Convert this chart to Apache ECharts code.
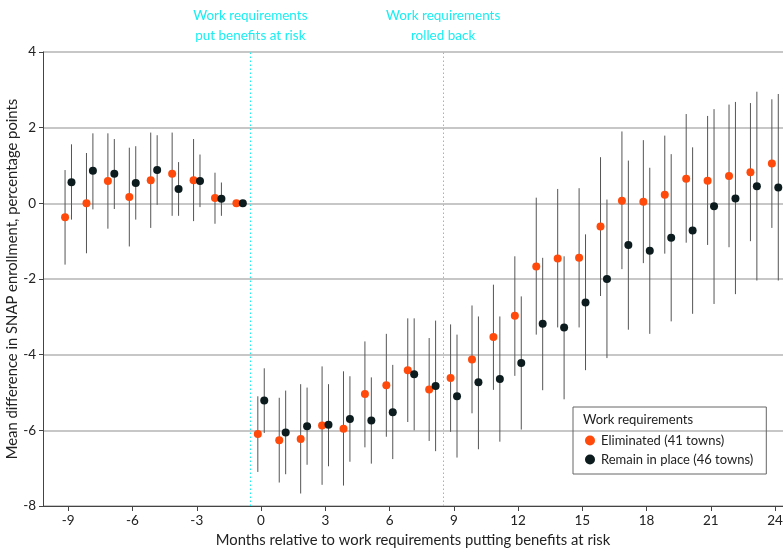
<!DOCTYPE html>
<html>
<head>
<meta charset="utf-8">
<script src="https://cdn.jsdelivr.net/npm/echarts@6/dist/echarts.min.js"></script>
<style>
  html, body { margin: 0; padding: 0; background: #fff; }
  #chart { width: 783px; height: 560px; }
</style>
</head>
<body>
<div id="chart"></div>
<script>
// months relative to work requirements putting benefits at risk
const months = [-9, -8, -7, -6, -5, -4, -3, -2, -1,
  0, 1, 2, 3, 4, 5, 6, 7, 8, 9, 10, 11, 12, 13, 14, 15, 16, 17, 18, 19, 20, 21, 22, 23, 24];

// Eliminated (41 towns)
const elimMean = [-0.37, 0.0, 0.59, 0.17, 0.61, 0.78, 0.61, 0.14, 0,
  -6.10, -6.26, -6.23, -5.87, -5.96, -5.04, -4.81, -4.41, -4.92, -4.62, -4.13, -3.53, -2.97,
  -1.67, -1.46, -1.44, -0.61, 0.07, 0.04, 0.23, 0.65, 0.60, 0.72, 0.82, 1.05];
const elimLow = [-1.62, -1.32, -0.67, -1.14, -0.65, -0.33, -0.47, -0.54, null,
  -7.10, -7.38, -7.67, -7.44, -7.46, -6.45, -6.17, -5.78, -6.28, -6.04, -5.55, -4.93, -4.56,
  -3.47, -3.28, -3.28, -2.45, -1.74, -1.58, -1.33, -1.04, -1.10, -1.16, -1.00, -0.65];
const elimHigh = [0.88, 1.33, 1.85, 1.47, 1.87, 1.87, 1.70, 0.81, null,
  -5.10, -5.14, -4.78, -4.31, -4.44, -3.65, -3.45, -3.04, -3.56, -3.20, -2.70, -2.15, -1.40,
  0.15, 0.38, 0.40, 1.22, 1.90, 1.67, 1.79, 2.36, 2.31, 2.61, 2.65, 2.75];

// Remain in place (46 towns)
const remainMean = [0.56, 0.86, 0.78, 0.54, 0.88, 0.38, 0.59, 0.12, 0,
  -5.21, -6.06, -5.89, -5.85, -5.70, -5.74, -5.52, -4.52, -4.83, -5.10, -4.73, -4.64, -4.22,
  -3.18, -3.28, -2.62, -2.00, -1.10, -1.25, -0.91, -0.72, -0.08, 0.13, 0.45, 0.42];
const remainLow = [-0.43, -0.16, -0.15, -0.43, -0.04, -0.33, -0.10, -0.33, null,
  -6.07, -7.16, -6.91, -6.95, -6.83, -6.88, -6.76, -6.00, -6.55, -6.72, -6.50, -6.30, -5.98,
  -4.94, -5.18, -4.41, -4.09, -3.34, -3.45, -3.12, -2.92, -2.66, -2.40, -2.04, -2.04];
const remainHigh = [1.56, 1.85, 1.70, 1.51, 1.80, 1.09, 1.29, 0.55, null,
  -4.36, -4.95, -4.87, -4.78, -4.57, -4.60, -4.27, -3.04, -3.10, -3.47, -2.99, -2.99, -2.46,
  -1.44, -1.40, -0.82, 0.10, 1.13, 0.94, 1.30, 1.48, 2.49, 2.68, 2.95, 2.89];

const xTicks = [-9, -6, -3, 0, 3, 6, 9, 12, 15, 18, 21, 24];
const events = [
  { at: -0.5, text: 'Work requirements\nput benefits at risk' },
  { at: 8.5, text: 'Work requirements\nrolled back' }
];

const ORANGE = '#ff4a0c';
const DARK = '#0c1b1d';
const CYAN = '#19eef2';
const FONT = 'Lato';
const dodge = 0.15;

const points = (mean, shift) => months.map((m, i) => [m + shift, mean[i]]);
const bars = (low, high, shift) => months
  .map((m, i) => [m + shift, low[i], high[i]])
  .filter(d => d[1] != null);

const errorBar = (params, api) => {
  const p1 = api.coord([api.value(0), api.value(1)]);
  const p2 = api.coord([api.value(0), api.value(2)]);
  return {
    type: 'line',
    shape: { x1: p1[0], y1: p1[1], x2: p2[0], y2: p2[1] },
    style: { stroke: '#555', lineWidth: 1 }
  };
};

const chart = echarts.init(document.getElementById('chart'), null, { renderer: 'canvas' });

chart.setOption({
  animation: false,
  textStyle: { fontFamily: FONT },
  grid: { left: 43, right: 0, top: 52, bottom: 54, outerBoundsMode: 'none', containLabel: false },
  title: {
    text: 'Work requirements',
    left: 583,
    top: 413,
    padding: 0,
    textStyle: { fontFamily: FONT, fontSize: 13, fontWeight: 'normal', color: '#222' }
  },
  legend: {
    orient: 'vertical',
    left: 573,
    top: 407,
    padding: [27, 13, 8, 12],
    borderColor: '#666',
    borderWidth: 1,
    itemWidth: 12,
    itemHeight: 10,
    itemGap: 6,
    icon: 'circle',
    textStyle: { fontFamily: FONT, fontSize: 13, color: '#222' },
    data: ['Eliminated (41 towns)', 'Remain in place (46 towns)']
  },
  xAxis: {
    type: 'value',
    min: -10.18,
    max: 24.37,
    name: 'Months relative to work requirements putting benefits at risk',
    nameLocation: 'middle',
    nameGap: 27,
    nameMoveOverlap: false,
    nameTextStyle: { fontFamily: FONT, fontSize: 14.8, color: '#222' },
    axisLine: { show: true, onZero: false, lineStyle: { color: '#444', width: 1 } },
    axisTick: { show: true, length: 5, customValues: xTicks, lineStyle: { color: '#444' } },
    axisLabel: { customValues: xTicks, margin: 8, fontSize: 13.5, color: '#222', fontFamily: FONT },
    splitLine: { show: false }
  },
  yAxis: {
    type: 'value',
    min: -8,
    max: 4,
    interval: 2,
    name: 'Mean difference in SNAP enrollment, percentage points',
    nameLocation: 'middle',
    nameGap: 23,
    nameMoveOverlap: false,
    nameTextStyle: { fontFamily: FONT, fontSize: 14.8, color: '#222' },
    axisLine: { show: true, onZero: false, lineStyle: { color: '#444', width: 1 } },
    axisTick: { show: true, length: 4, lineStyle: { color: '#444' } },
    axisLabel: { margin: 7, fontSize: 13.5, color: '#222', fontFamily: FONT },
    splitLine: { show: true, lineStyle: { color: '#b5b5b5', width: 1.5 } }
  },
  series: [
    {
      type: 'custom',
      name: 'elimBars',
      renderItem: errorBar,
      data: bars(elimLow, elimHigh, -dodge),
      encode: { x: 0, y: [1, 2] },
      silent: true,
      z: 1,
      markLine: {
        silent: true,
        symbol: ['none', 'none'],
        lineStyle: { color: CYAN, type: [1.5, 2.5], width: 1 },
        label: {
          show: true,
          position: 'end',
          distance: 6,
          color: CYAN,
          fontFamily: FONT,
          fontSize: 13.5,
          lineHeight: 20,
          align: 'center',
          formatter: p => p.name
        },
        data: events.map(e => ({ xAxis: e.at, name: e.text }))
      }
    },
    {
      type: 'custom',
      name: 'remainBars',
      renderItem: errorBar,
      data: bars(remainLow, remainHigh, dodge),
      encode: { x: 0, y: [1, 2] },
      silent: true,
      z: 1
    },
    {
      type: 'scatter',
      name: 'Eliminated (41 towns)',
      symbol: 'circle',
      symbolSize: 8,
      itemStyle: { color: ORANGE, opacity: 1 },
      data: points(elimMean, -dodge),
      z: 3
    },
    {
      type: 'scatter',
      name: 'Remain in place (46 towns)',
      symbol: 'circle',
      symbolSize: 8,
      itemStyle: { color: DARK, opacity: 1 },
      data: points(remainMean, dodge),
      z: 3
    }
  ]
});
</script>
</body>
</html>
